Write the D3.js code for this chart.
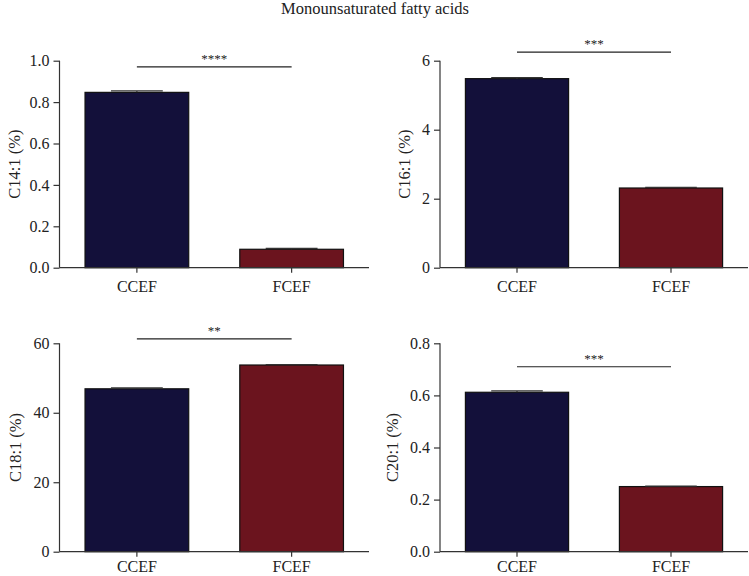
<!DOCTYPE html>
<html>
<head>
<meta charset="utf-8">
<script src="https://cdn.jsdelivr.net/npm/d3@7"></script>
<style>
  body { margin: 0; background: #fff; }
  svg { display: block; }
  text { font-family: "Liberation Serif", "DejaVu Serif", serif; fill: #222; }
</style>
</head>
<body>
<svg id="chart" width="749" height="576"></svg>
<script>
const title = "Monounsaturated fatty acids";
const groups = ["CCEF", "FCEF"];
const colors = ["#13103a", "#6b141e"];

const panelLabels = ["C14:1 (%)", "C16:1 (%)", "C18:1 (%)", "C20:1 (%)"];
const panelMax = [1.0, 6, 60, 0.8];
const panelTicks = [[0, 0.2, 0.4, 0.6, 0.8, 1.0], [0, 2, 4, 6], [0, 20, 40, 60], [0, 0.2, 0.4, 0.6, 0.8]];
const panelTickFormat = [".1f", "d", "d", ".1f"];

const c14Values = [0.847, 0.089];
const c16Values = [5.48, 2.31];
const c18Values = [46.9, 53.75];
const c20Values = [0.612, 0.25];
const c14Err = [0.007, 0.004];
const c16Err = [0.03, 0.02];
const c18Err = [0.25, 0.12];
const c20Err = [0.005, 0.002];

const significance = ["****", "***", "**", "***"];
const sigValues = [0.97, 6.25, 61.3, 0.71];

const values = [c14Values, c16Values, c18Values, c20Values];
const errs = [c14Err, c16Err, c18Err, c20Err];

const svg = d3.select("#chart");

svg.append("text")
  .attr("x", 375).attr("y", 14)
  .attr("text-anchor", "middle")
  .style("font-size", "16.5px")
  .text(title);

const layout = [
  { x0: 59.5, x1: 369, yTop: 60.7, yBot: 267.7, labelX: 14, xPad: 8 },
  { x0: 440, x1: 748, yTop: 60.7, yBot: 267.7, labelX: 404, xPad: 8 },
  { x0: 59.5, x1: 369, yTop: 343.3, yBot: 551.7, labelX: 15, xPad: 3.5 },
  { x0: 440, x1: 748, yTop: 343.3, yBot: 551.7, labelX: 392, xPad: 3.5 }
];

layout.forEach((L, i) => {
  const g = svg.append("g");
  const x = d3.scaleBand().domain(groups).range([L.x0, L.x1])
    .paddingInner(0.33).paddingOuter(0.165);
  const y = d3.scaleLinear().domain([0, panelMax[i]]).range([L.yBot, L.yTop]);

  // bars
  g.selectAll("rect.bar").data(groups).join("rect")
    .attr("class", "bar")
    .attr("x", d => x(d))
    .attr("width", x.bandwidth())
    .attr("y", (d, j) => y(values[i][j]))
    .attr("height", (d, j) => L.yBot - y(values[i][j]))
    .attr("fill", (d, j) => colors[j])
    .attr("stroke", "#111")
    .attr("stroke-width", 1.2);

  // error bars (upper only)
  groups.forEach((gname, j) => {
    const cx = x(gname) + x.bandwidth() / 2;
    const top = y(values[i][j] + errs[i][j]);
    const hw = x.bandwidth() / 4;
    g.append("line")
      .attr("x1", cx).attr("x2", cx)
      .attr("y1", y(values[i][j])).attr("y2", top)
      .attr("stroke", "#333").attr("stroke-width", 1.2);
    g.append("line")
      .attr("x1", cx - hw).attr("x2", cx + hw)
      .attr("y1", top).attr("y2", top)
      .attr("stroke", "#333").attr("stroke-width", 1.2);
  });

  // y axis
  const yAxis = d3.axisLeft(y).tickValues(panelTicks[i])
    .tickFormat(d3.format(panelTickFormat[i])).tickSize(6).tickPadding(4);
  const ya = g.append("g").attr("transform", `translate(${L.x0},0)`).call(yAxis);
  ya.select(".domain").attr("d", `M0,${L.yTop}V${L.yBot}`);

  // x axis
  const xAxis = d3.axisBottom(x).tickSize(5).tickPadding(L.xPad);
  const xa = g.append("g").attr("transform", `translate(0,${L.yBot})`).call(xAxis);
  xa.select(".domain").attr("d", `M${L.x0},0H${L.x1}`);

  [ya, xa].forEach(a => {
    a.selectAll(".domain").attr("stroke", "#333").attr("stroke-width", 1.2);
    a.selectAll(".tick line").attr("stroke", "#333").attr("stroke-width", 1.2);
    a.selectAll(".tick text").style("font-size", "16px").attr("fill", "#222")
      .style("font-family", '"Liberation Serif", serif');
  });

  // y label
  g.append("text")
    .attr("transform", `translate(${L.labelX},${(L.yTop + L.yBot) / 2}) rotate(-90)`)
    .attr("text-anchor", "middle")
    .attr("dy", "0.35em")
    .style("font-size", "16.5px")
    .text(panelLabels[i]);

  // significance line
  const sx1 = x(groups[0]) + x.bandwidth() / 2;
  const sx2 = x(groups[1]) + x.bandwidth() / 2;
  const sy = y(sigValues[i]);
  g.append("line")
    .attr("x1", sx1).attr("x2", sx2)
    .attr("y1", sy).attr("y2", sy)
    .attr("stroke", "#222").attr("stroke-width", 1.2);
  g.append("text")
    .attr("x", (sx1 + sx2) / 2).attr("y", sy - 4)
    .attr("text-anchor", "middle")
    .style("font-size", "13px")
    .text(significance[i]);
});
</script>
</body>
</html>
